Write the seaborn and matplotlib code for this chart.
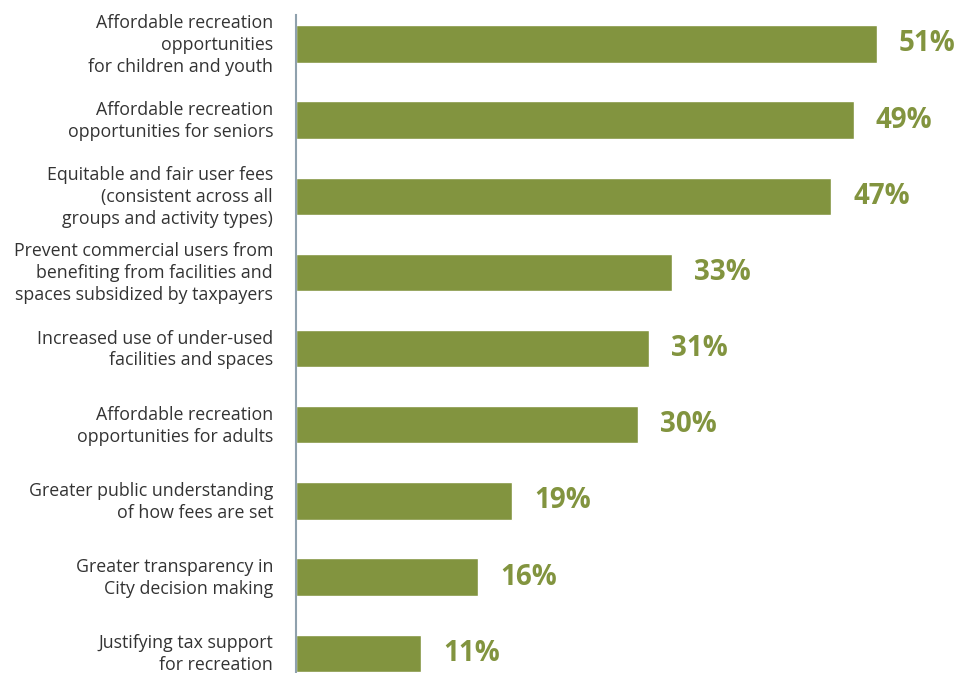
import matplotlib
matplotlib.use('Agg')
import matplotlib.pyplot as plt
import matplotlib.transforms as mtransforms
import seaborn as sns
import pandas as pd

categories = [
    'Affordable recreation\nopportunities\nfor children and youth',
    'Affordable recreation\nopportunities for seniors',
    'Equitable and fair user fees\n(consistent across all\ngroups and activity types)',
    'Prevent commercial users from\nbenefiting from facilities and\nspaces subsidized by taxpayers',
    'Increased use of under-used\nfacilities and spaces',
    'Affordable recreation\nopportunities for adults',
    'Greater public understanding\nof how fees are set',
    'Greater transparency in\nCity decision making',
    'Justifying tax support\nfor recreation',
]
values = [51, 49, 47, 33, 31, 30, 19, 16, 11]

sns.set_style('white')
plt.rcParams['font.family'] = ['Open Sans', 'DejaVu Sans']

df = pd.DataFrame({'item': categories, 'pct': values})

fig = plt.figure(figsize=(9.69, 6.73), dpi=100)
ax = fig.add_axes([296 / 969, 0, 1 - 296 / 969, (673 - 15) / 673])

green = '#82943F'
sns.barplot(data=df, y='item', x='pct', orient='h', color=green,
            width=0.49, saturation=1, ax=ax)

for i, v in enumerate(values):
    ax.annotate(f'{v}%', xy=(v, i), xytext=(22, 0), textcoords='offset pixels',
                ha='left', va='center', fontsize=20, fontweight='bold', color=green)

ax.set_xlim(0, 59.1)
ax.set_ylim(8.26, -0.38)
ax.set_xlabel('')
ax.set_ylabel('')
ax.set_xticks([])
ax.tick_params(axis='y', length=0, pad=16.5, labelsize=12.8, labelcolor='#333333')
shift = mtransforms.ScaledTranslation(0, 3 / 100, fig.dpi_scale_trans)
for lbl in ax.get_yticklabels():
    lbl.set_linespacing(1.28)
    lbl.set_transform(lbl.get_transform() + shift)

for s in ['top', 'right', 'bottom']:
    ax.spines[s].set_visible(False)
ax.spines['left'].set_color('#8FA1AD')
ax.spines['left'].set_linewidth(1.5)

fig.savefig('out.png', dpi=100)
